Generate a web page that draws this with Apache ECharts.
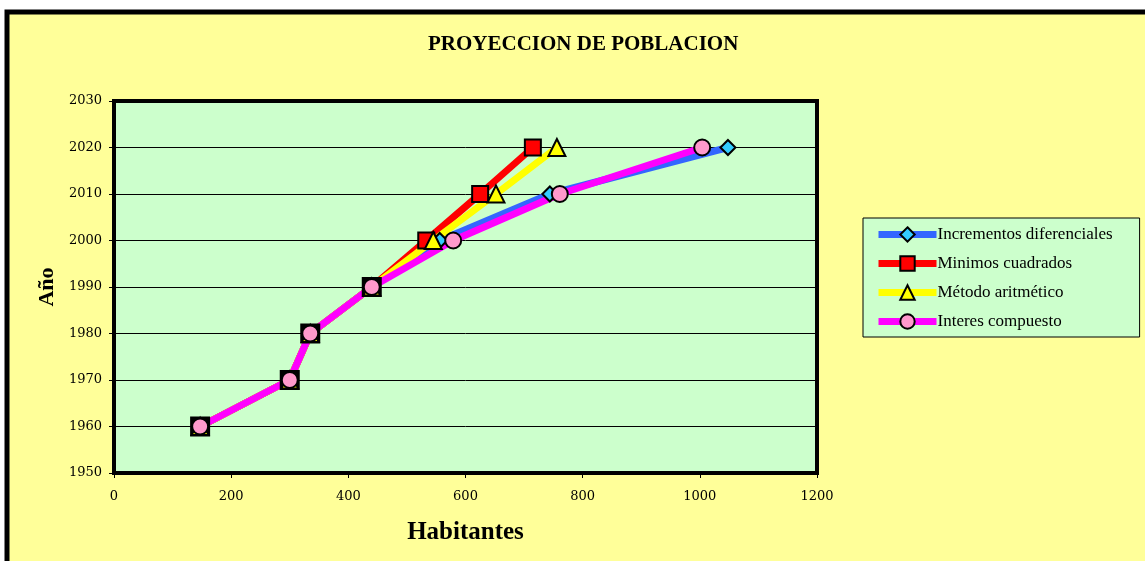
<!DOCTYPE html>
<html>
<head>
<meta charset="utf-8">
<script src="https://cdn.jsdelivr.net/npm/echarts@6/dist/echarts.min.js"></script>
<style>
  html, body { margin: 0; padding: 0; background: #fff; }
  #chart { width: 1145px; height: 561px; }
</style>
</head>
<body>
<div id="chart"></div>
<script>
// años de la proyeccion (eje y)
var years = [1960, 1970, 1980, 1990, 2000, 2010, 2020];
// habitantes por metodo
var incrementos = [147, 300, 335, 440, 556, 744, 1048];
var minimos = [147, 300, 335, 440, 533, 625, 715];
var aritmetico = [147, 300, 335, 440, 545, 652, 756];
var compuesto = [147, 300, 335, 440, 579, 761, 1004];
var seriesNames = ['Incrementos diferenciales', 'Minimos cuadrados', 'Método aritmético', 'Interes compuesto'];

var serif = '"Liberation Serif", "DejaVu Serif", serif';
var wideSerif = '"DejaVu Serif", serif';

function pairs(vals, histColor){
    return vals.map(function(v, i){
        var p = { value: [v, years[i]] };
        // puntos historicos: los marcadores se superponen y se ven negros
        if(histColor && years[i] <= 1990){
            p.itemStyle = { color: histColor };
            p.symbolSize = 18;
        }
        return p;
    });
}

function mkSeries(name, vals, color, symbol, size, fill, histColor){
    return {
        name: name,
        type: 'line',
        data: pairs(vals, histColor),
        symbol: symbol,
        symbolSize: size,
        showAllSymbol: true,
        lineStyle: { color: color, width: 7 },
        itemStyle: { color: fill, borderColor: '#000', borderWidth: 2 },
        emphasis: { disabled: true },
        animation: false
    };
}

var chart = echarts.init(document.getElementById('chart'));
chart.setOption({
    backgroundColor: '#fff',
    animation: false,
    graphic: [{
        type: 'rect',
        z: -10,
        shape: { x: 7, y: 12, width: 1200, height: 600 },
        style: { fill: '#FFFF99', stroke: '#000', lineWidth: 5 }
    }],
    title: {
        text: 'PROYECCION DE POBLACION',
        left: 423,
        top: 29,
        textStyle: { fontFamily: serif, fontWeight: 'bold', fontSize: 21, color: '#000' }
    },
    legend: {
        orient: 'vertical',
        left: 863,
        top: 218,
        padding: [8, 27, 7, 12],
        itemGap: 12,
        itemWidth: 58,
        itemHeight: 18,
        backgroundColor: '#CCFFCC',
        borderColor: '#000',
        borderWidth: 1,
        borderRadius: 0,
        lineStyle: { width: 7 },
        data: seriesNames,
        textStyle: { fontFamily: serif, fontSize: 17, color: '#000', padding: [0, 0, 0, -4] }
    },
    grid: {
        left: 114,
        top: 101,
        width: 703,
        height: 372,
        show: true,
        backgroundColor: '#CCFFCC',
        borderColor: '#000',
        borderWidth: 4
    },
    xAxis: {
        type: 'value',
        min: 0,
        max: 1200,
        interval: 200,
        name: 'Habitantes',
        nameLocation: 'middle',
        nameGap: 47,
        nameTextStyle: { fontFamily: serif, fontWeight: 'bold', fontSize: 25, color: '#000' },
        axisLine: { show: true, lineStyle: { color: '#000', width: 4 } },
        axisTick: { show: true, length: 5, lineStyle: { color: '#000' } },
        axisLabel: { margin: 17, fontFamily: wideSerif, fontSize: 13, color: '#000',
            formatter: function(v){ return String(v); } },
        splitLine: { show: false }
    },
    yAxis: {
        type: 'value',
        min: 1950,
        max: 2030,
        interval: 10,
        name: 'Año',
        nameLocation: 'middle',
        nameGap: 56,
        nameTextStyle: { fontFamily: serif, fontWeight: 'bold', fontSize: 22, color: '#000' },
        axisLine: { show: true, lineStyle: { color: '#000', width: 4 } },
        axisTick: { show: true, length: 5, lineStyle: { color: '#000' } },
        axisLabel: { margin: 12, fontFamily: wideSerif, fontSize: 13, color: '#000',
            formatter: function(v){ return String(v); } },
        splitLine: { show: true, lineStyle: { color: '#000', width: 1 } }
    },
    series: [
        mkSeries(seriesNames[0], incrementos, '#3366FF', 'diamond', 15, '#33CCFF'),
        mkSeries(seriesNames[1], minimos, '#FF0000', 'rect', 16, '#FF0000', '#000'),
        mkSeries(seriesNames[2], aritmetico, '#FFFF00', 'triangle', 17, '#FFFF00'),
        mkSeries(seriesNames[3], compuesto, '#FF00FF', 'circle', 16, '#FF99CC')
    ]
});
</script>
</body>
</html>
